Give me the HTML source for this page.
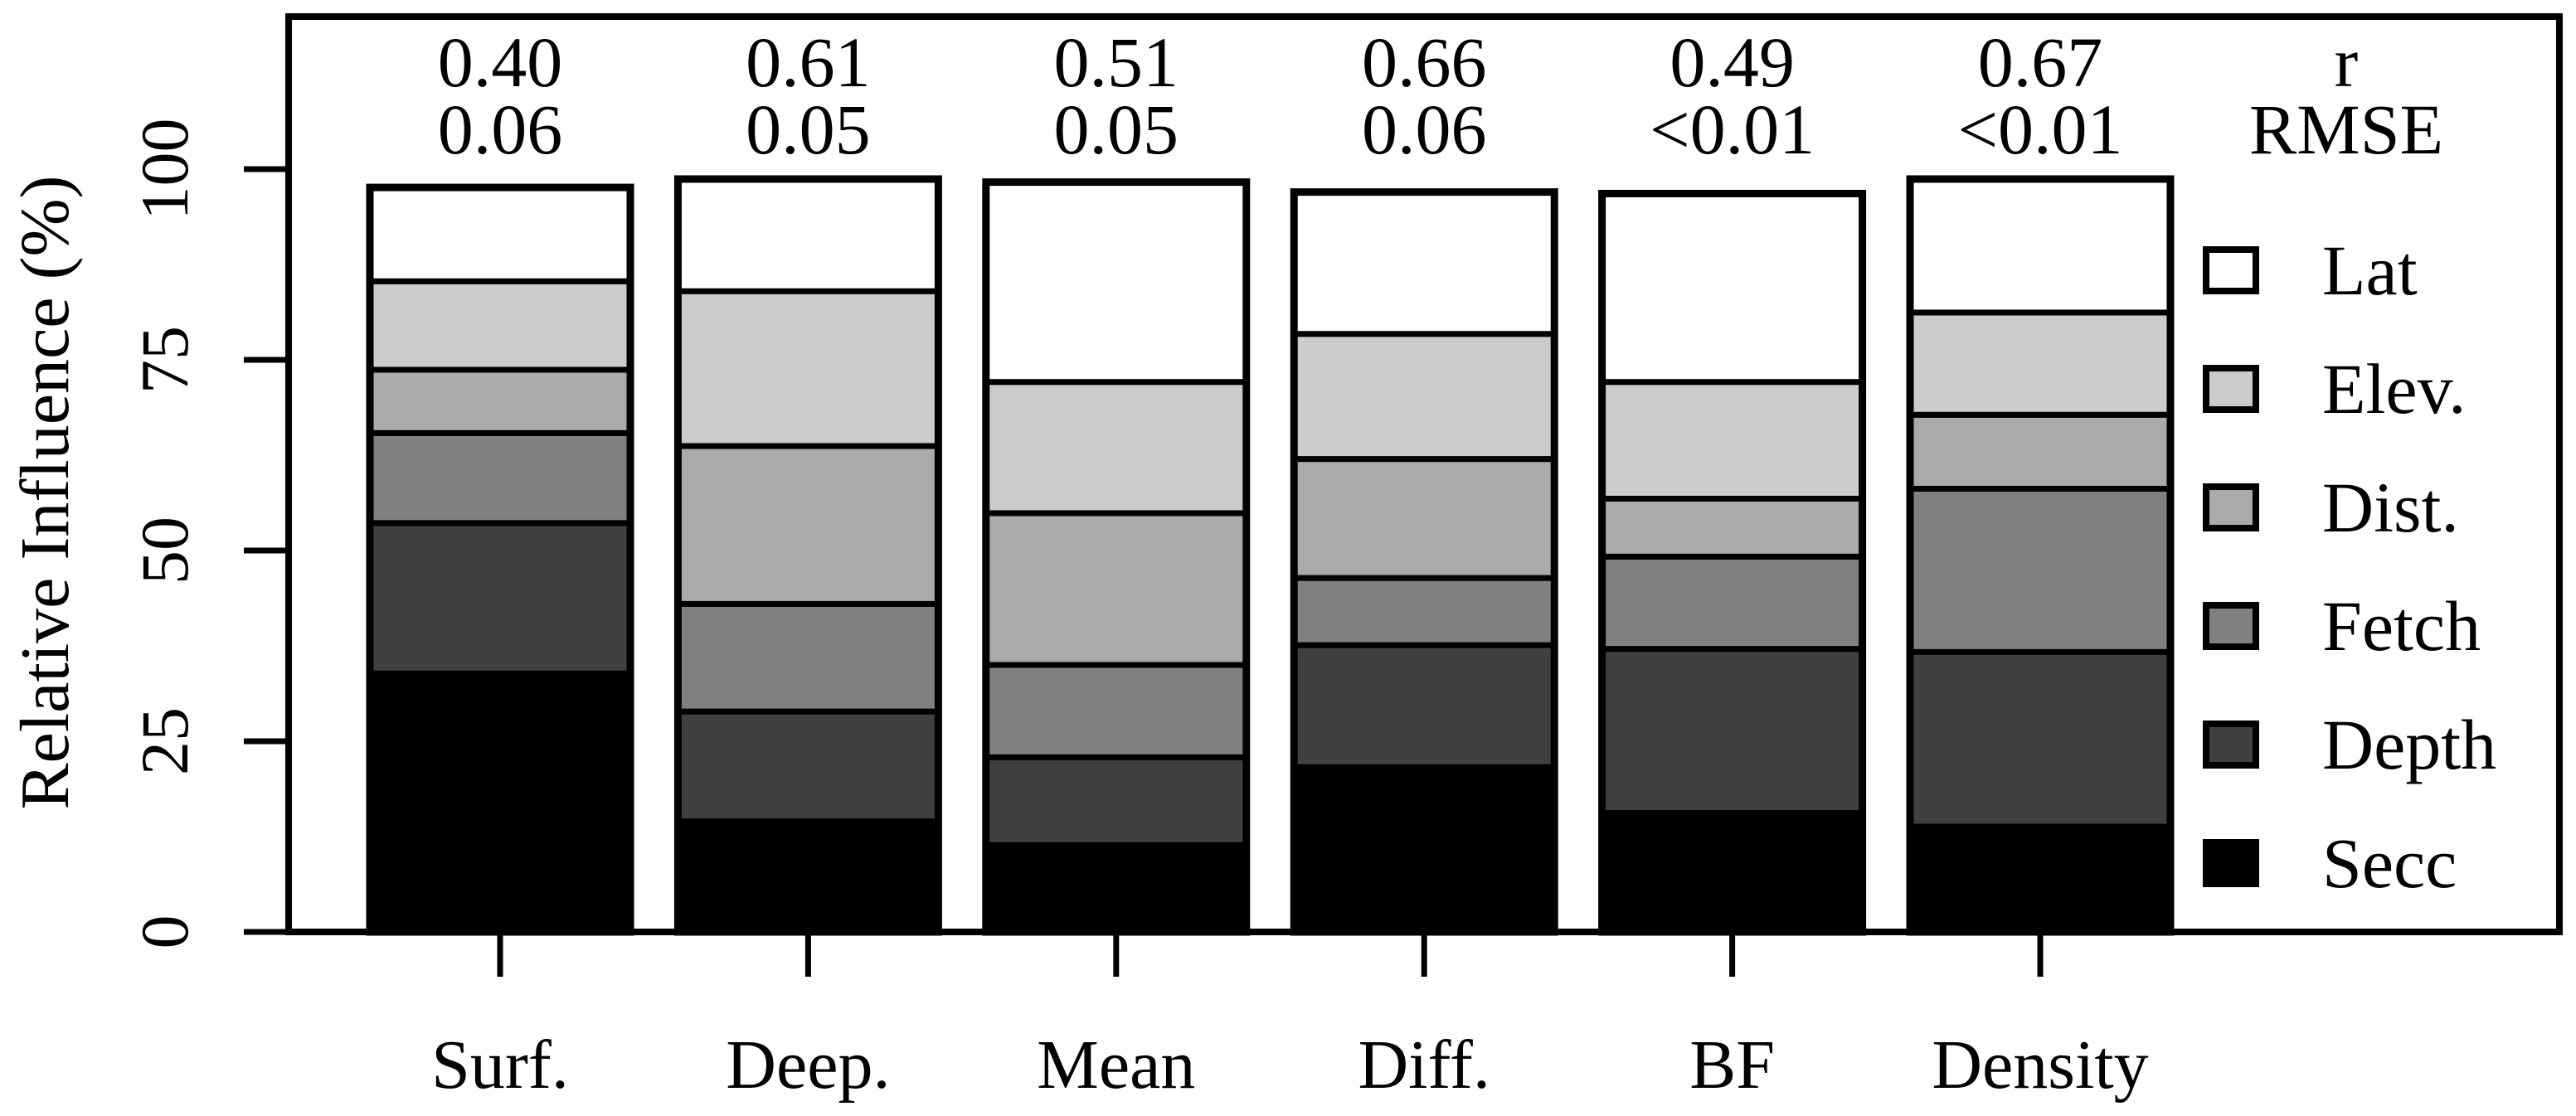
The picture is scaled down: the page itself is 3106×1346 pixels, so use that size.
<!DOCTYPE html>
<html><head><meta charset="utf-8"><style>
html,body{margin:0;padding:0;background:#fff;}
svg{display:block;}
svg text{font-family:"Liberation Serif","DejaVu Serif","Times New Roman",serif;}
</style></head><body>
<svg id="chart" width="3106" height="1346" viewBox="0 0 3106 1346" font-family="Liberation Serif, DejaVu Serif, serif">
<g id="bars"></g>
<g id="axes"></g>
<g id="labels"></g>
<g id="legend"></g>
</svg>
<script>
const categories = ["Surf.", "Deep.", "Mean", "Diff.", "BF", "Density"];
const seriesNames = ["Secc", "Depth", "Fetch", "Dist.", "Elev.", "Lat"];
const secc  = [33.9, 14.5, 11.4, 21.6, 15.6, 13.8];
const depth = [19.7, 14.4, 11.5, 16.0, 21.5, 22.9];
const fetch = [11.8, 14.1, 12.1, 8.8, 12.1, 21.4];
const dist  = [8.3, 20.7, 19.9, 15.6, 7.6, 9.7];
const elev  = [11.6, 20.3, 17.2, 16.4, 15.3, 13.4];
const lat   = [12.3, 14.7, 26.2, 18.6, 24.7, 17.5];
const rValues = ["0.40", "0.61", "0.51", "0.66", "0.49", "0.67"];
const rmseValues = ["0.06", "0.05", "0.05", "0.06", "<0.01", "<0.01"];
const yTicks = [0, 25, 50, 75, 100];

const NS = "http://www.w3.org/2000/svg";
const FONT = '"Liberation Serif", "DejaVu Serif", "Times New Roman", serif';
const fills = ["#000000", "#404040", "#808080", "#aaaaaa", "#cccccc", "#ffffff"];
const series = [secc, depth, fetch, dist, elev, lat];
const X0 = 603, XSTEP = 371.4, BW = 314;
const Y0 = 1124, YPX = 9.2;
function xC(i){ return X0 + i * XSTEP; }
function yS(v){ return Y0 - v * YPX; }
function mk(tag, attrs, parent){
  const e = document.createElementNS(NS, tag);
  for (const k in attrs) e.setAttribute(k, attrs[k]);
  if (tag === "text") e.style.fontFamily = FONT;
  parent.appendChild(e);
  return e;
}
const gB = document.getElementById("bars");
const gA = document.getElementById("axes");
const gL = document.getElementById("labels");
const gLeg = document.getElementById("legend");

categories.forEach((c, i) => {
  let cum = 0;
  const x = xC(i) - BW / 2;
  series.forEach((s, k) => {
    const v = s[i];
    const r = mk("rect", {x: x, y: yS(cum + v), width: BW, height: v * YPX, fill: fills[k], stroke: "#000", "stroke-width": 7}, gB);
    
    
    cum += v;
  });
  const o = mk("rect", {x: x, y: yS(cum), width: BW, height: cum * YPX, fill: "none", stroke: "#000", "stroke-width": 9}, gB);
  
  
  const t = mk("line", {x1: xC(i), x2: xC(i), y1: Y0, y2: 1178, stroke: "#000", "stroke-width": 7}, gA);
  
  
  const xl = mk("text", {x: xC(i), y: 1312, "font-size": 84, "text-anchor": "middle"}, gL);
  xl.textContent = c;
  
  
  const r1 = mk("text", {x: xC(i), y: 104, "font-size": 86, "text-anchor": "middle"}, gL);
  r1.textContent = rValues[i];
  
  
  const r2 = mk("text", {x: xC(i), y: 185, "font-size": 86, "text-anchor": "middle"}, gL);
  r2.textContent = rmseValues[i];
  
  
});

const box = mk("rect", {x: 348, y: 20, width: 2738, height: Y0 - 20, fill: "none", stroke: "#000", "stroke-width": 8}, gA);


yTicks.forEach(v => {
  const t = mk("line", {x1: 294, x2: 348, y1: yS(v), y2: yS(v), stroke: "#000", "stroke-width": 7}, gA);
  
  
  const l = mk("text", {x: 0, y: 0, "font-size": 82, "text-anchor": "middle", transform: "translate(226," + yS(v) + ") rotate(-90)"}, gL);
  l.textContent = v;
  
  
});
const yt = mk("text", {x: 0, y: 0, "font-size": 84, "text-anchor": "middle", transform: "translate(82,594) rotate(-90)"}, gL);
yt.textContent = "Relative Influence (%)";



const h1 = mk("text", {x: 2829, y: 104, "font-size": 86, "text-anchor": "middle"}, gL);
h1.textContent = "r";


const h2 = mk("text", {x: 2829, y: 185, "font-size": 86, "text-anchor": "middle"}, gL);
h2.textContent = "RMSE";



for (let k = 5; k >= 0; k--) {
  const row = 5 - k;
  const cy = 326 + row * 143;
  const sw = mk("rect", {x: 2660, y: cy - 25, width: 60, height: 50, fill: fills[k], stroke: "#000", "stroke-width": 8}, gLeg);
  
  
  const lt = mk("text", {x: 2800, y: cy + 29, "font-size": 86}, gLeg);
  lt.textContent = seriesNames[k];
  
  
}
</script>
</body></html>
